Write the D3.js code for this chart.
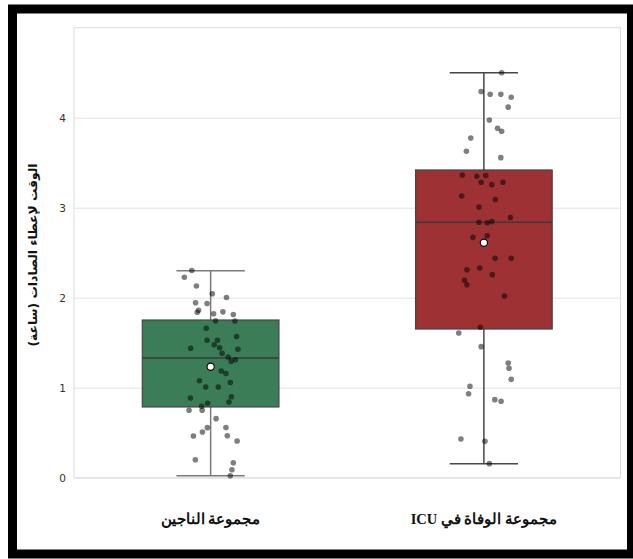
<!DOCTYPE html>
<html><head><meta charset="utf-8">
<script src="https://cdn.jsdelivr.net/npm/d3@7/dist/d3.min.js"></script>
<style>body{margin:0;background:#fff} svg{display:block}</style>
</head><body><svg id="c" width="633" height="559"></svg>
<script>
// ---- data ----
const categories = ["مجموعة الناجين", "مجموعة الوفاة في ICU"];
const yTicks = [0, 1, 2, 3, 4];
const yLabel = "الوقت لإعطاء الصادات (ساعة)";

const survivorValues = [2.302,2.228,2.130,2.044,2.002,1.944,1.936,1.860,1.838,1.822,1.843,1.813,1.741,1.743,1.660,1.569,1.527,1.527,1.477,1.444,1.438,1.427,1.382,1.341,1.310,1.293,1.186,1.158,1.077,1.058,1.008,1.008,0.900,0.886,0.841,0.827,0.794,0.750,0.750,0.656,0.558,0.556,0.508,0.463,0.466,0.408,0.199,0.166,0.088,0.021];
const survivorJitter = [-0.069,-0.096,-0.052,0.006,0.058,-0.055,-0.013,-0.044,-0.049,0.011,0.045,0.083,0.089,0.018,-0.016,0.095,-0.013,0.025,0.013,0.033,-0.073,0.100,0.042,0.064,0.091,0.075,0.039,0.056,-0.041,0.072,-0.018,0.028,0.076,-0.074,0.067,-0.011,-0.033,-0.079,-0.031,0.020,0.056,-0.012,-0.030,-0.063,0.061,0.097,-0.056,0.083,0.078,0.072];

const deathValues = [4.500,4.291,4.260,4.260,4.227,4.117,3.974,3.882,3.849,3.774,3.627,3.556,3.363,3.349,3.358,3.282,3.256,3.282,3.130,3.091,3.008,2.891,2.839,2.832,2.847,2.671,2.689,2.439,2.439,2.311,2.330,2.256,2.194,2.144,2.019,1.671,1.608,1.456,1.274,1.216,1.093,1.016,0.933,0.867,0.849,0.430,0.404,0.156];
const deathJitter = [0.065,-0.010,0.023,0.062,0.100,0.089,0.020,0.050,0.065,-0.048,-0.064,0.062,-0.079,-0.026,0.007,-0.010,0.029,0.070,-0.081,0.042,-0.018,0.097,-0.018,0.012,0.029,-0.040,0.012,0.041,0.100,-0.062,-0.015,0.031,-0.071,-0.062,0.075,-0.013,-0.092,-0.010,0.089,0.092,0.100,-0.051,-0.056,0.040,0.063,-0.084,0.004,0.020];

const q1 = [0.786, 1.652];
const medians = [1.330, 2.838];
const q3 = [1.752, 3.419];
const whiskerLow = [0.022, 0.156];
const whiskerHigh = [2.300, 4.500];
const means = [1.233, 2.611];

const boxColors = ["#3b7d57", "#9d3134"];
const whiskerColors = ["#7a7a7a", "#474747"];

// ---- drawing ----
(function () {
const svg = d3.select("#c");
const W = 633, H = 559;
const pLeft = 74, pRight = 620.5, pTop = 27.7, pBottom = 477.7;

const x = d3.scaleBand().domain(categories).range([pLeft, pRight]).paddingInner(0).paddingOuter(0);
const y = d3.scaleLinear().domain([0, 5]).range([pBottom, pTop]);
const bw = x.bandwidth();

svg.append("rect").attr("width", W).attr("height", H).attr("fill", "#fff");

// gridlines
svg.append("g").attr("transform", `translate(${pLeft},0)`)
  .call(d3.axisLeft(y).tickValues(yTicks).tickSize(-(pRight - pLeft)).tickFormat(""))
  .call(g => g.select(".domain").remove())
  .call(g => g.selectAll("line").attr("stroke", "#e2e2e2").attr("stroke-width", 1));

// plot frame
svg.append("rect").attr("x", pLeft).attr("y", pTop).attr("width", pRight - pLeft).attr("height", pBottom - pTop)
  .attr("fill", "none").attr("stroke", "#dedede").attr("stroke-width", 1);

// y tick labels
svg.append("g").attr("transform", `translate(${pLeft},0)`)
  .call(d3.axisLeft(y).tickValues(yTicks).tickSize(0).tickPadding(8).tickFormat(d3.format("d")))
  .call(g => g.select(".domain").remove())
  .call(g => g.selectAll("text").attr("fill", "#333").attr("font-size", 10.5).attr("font-family", "DejaVu Sans, sans-serif"));

// x tick labels
svg.append("g").attr("transform", `translate(0,${pBottom})`)
  .call(d3.axisBottom(x).tickSize(0).tickPadding(36))
  .call(g => g.select(".domain").remove())
  .call(g => g.selectAll("text").attr("fill", "#111").attr("font-size", 14.5).attr("font-weight", "bold")
      .attr("direction", "rtl").style("unicode-bidi", "embed")
      .attr("font-family", "'Liberation Serif', 'DejaVu Serif', serif"));

// y label
svg.append("text")
  .attr("transform", `translate(37,255) rotate(-90)`)
  .attr("text-anchor", "middle")
  .attr("direction", "rtl").style("unicode-bidi", "embed")
  .attr("font-size", 12.3).attr("font-weight", "bold").attr("fill", "#111")
  .attr("font-family", "DejaVu Sans, sans-serif")
  .text(yLabel);

// boxes
const groups = categories.map((c, i) => ({ c, i }));
const g = svg.append("g");
groups.forEach(({ c, i }) => {
  const cx = x(c) + bw / 2;
  const boxW = bw * 0.5, capW = bw * 0.25;
  g.append("line").attr("x1", cx).attr("x2", cx).attr("y1", y(q3[i])).attr("y2", y(whiskerHigh[i]))
    .attr("stroke", whiskerColors[i]).attr("stroke-width", 1.5);
  g.append("line").attr("x1", cx).attr("x2", cx).attr("y1", y(q1[i])).attr("y2", y(whiskerLow[i]))
    .attr("stroke", whiskerColors[i]).attr("stroke-width", 1.5);
  g.append("line").attr("x1", cx - capW / 2).attr("x2", cx + capW / 2).attr("y1", y(whiskerHigh[i])).attr("y2", y(whiskerHigh[i]))
    .attr("stroke", whiskerColors[i]).attr("stroke-width", 1.5);
  g.append("line").attr("x1", cx - capW / 2).attr("x2", cx + capW / 2).attr("y1", y(whiskerLow[i])).attr("y2", y(whiskerLow[i]))
    .attr("stroke", whiskerColors[i]).attr("stroke-width", 1.5);
  g.append("rect").attr("x", cx - boxW / 2).attr("y", y(q3[i])).attr("width", boxW).attr("height", y(q1[i]) - y(q3[i]))
    .attr("fill", boxColors[i]).attr("stroke", "#444").attr("stroke-width", 1.2);
  g.append("line").attr("x1", cx - boxW / 2).attr("x2", cx + boxW / 2).attr("y1", y(medians[i])).attr("y2", y(medians[i]))
    .attr("stroke", "#3a3a3a").attr("stroke-width", 1.5);
});

// points
const pointSets = [
  survivorValues.map((v, k) => ({ v, j: survivorJitter[k], c: categories[0] })),
  deathValues.map((v, k) => ({ v, j: deathJitter[k], c: categories[1] }))
];
pointSets.forEach(ps => {
  svg.append("g").selectAll("circle").data(ps).join("circle")
    .attr("cx", d => x(d.c) + bw / 2 + d.j * bw)
    .attr("cy", d => y(d.v))
    .attr("r", 2.8)
    .attr("fill", "#000").attr("fill-opacity", 0.5);
});

// means
svg.append("g").selectAll("circle").data(groups).join("circle")
  .attr("cx", d => x(d.c) + bw / 2)
  .attr("cy", d => y(means[d.i]))
  .attr("r", 3.6)
  .attr("fill", "#fff").attr("stroke", "#000").attr("stroke-width", 1.1);

// outer black frame
svg.append("rect").attr("x", 12.5).attr("y", 9).attr("width", 619).attr("height", 545)
  .attr("fill", "none").attr("stroke", "#000").attr("stroke-width", 9);
})();
</script>
</body></html>
